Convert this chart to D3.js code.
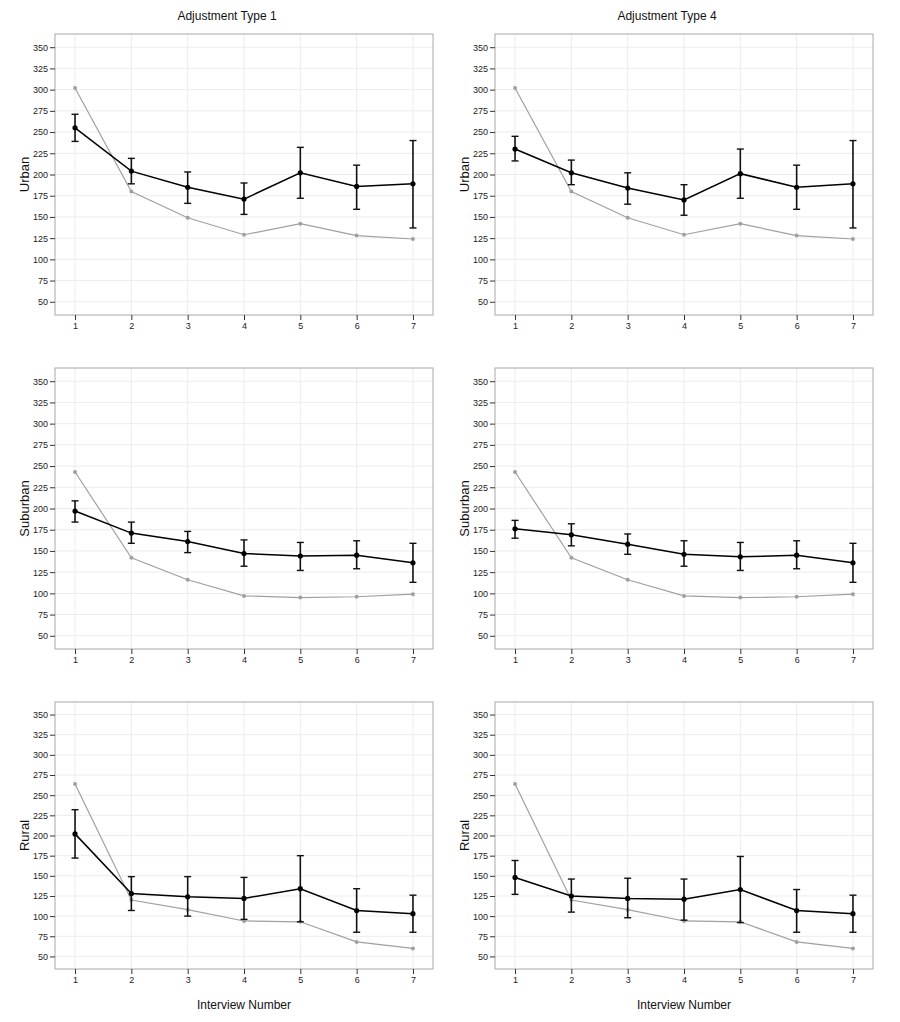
<!DOCTYPE html>
<html>
<head>
<meta charset="utf-8">
<script src="https://cdn.jsdelivr.net/npm/d3@7/dist/d3.min.js"></script>
<style>
  body { margin: 0; background: #fff; }
  svg text { font-family: "Liberation Sans", Arial, sans-serif; }
</style>
</head>
<body>
<svg id="chart" width="900" height="1022"></svg>
<script>
// ---- data ----
const interviews = [1, 2, 3, 4, 5, 6, 7];
const yTicks = [50, 75, 100, 125, 150, 175, 200, 225, 250, 275, 300, 325, 350];
const adjustments = ['Adjustment Type 1', 'Adjustment Type 4'];
const areas = ['Urban', 'Suburban', 'Rural'];

// grey reference line (same in both columns)
const baseUrban    = [302, 180, 149, 129, 142, 128, 124];
const baseSuburban = [243, 142, 116, 97, 95, 96, 99];
const baseRural    = [264, 120, 108, 94, 93, 68, 60];

// adjusted estimates with error bar bounds
const urbanT1     = [255, 204, 185, 171, 202, 186, 189];
const urbanT1Lo   = [239, 189, 166, 153, 172, 159, 137];
const urbanT1Hi   = [271, 219, 203, 190, 232, 211, 240];
const urbanT4     = [230, 202, 184, 170, 201, 185, 189];
const urbanT4Lo   = [216, 188, 165, 152, 172, 159, 137];
const urbanT4Hi   = [245, 217, 202, 188, 230, 211, 240];

const suburbT1    = [197, 171, 161, 147, 144, 145, 136];
const suburbT1Lo  = [184, 159, 148, 132, 127, 129, 113];
const suburbT1Hi  = [209, 184, 173, 163, 160, 162, 159];
const suburbT4    = [176, 169, 158, 146, 143, 145, 136];
const suburbT4Lo  = [165, 156, 146, 132, 127, 129, 113];
const suburbT4Hi  = [186, 182, 170, 162, 160, 162, 159];

const ruralT1     = [202, 128, 124, 122, 134, 107, 103];
const ruralT1Lo   = [172, 107, 100, 96, 93, 80, 80];
const ruralT1Hi   = [232, 149, 149, 148, 175, 134, 126];
const ruralT4     = [148, 125, 122, 121, 133, 107, 103];
const ruralT4Lo   = [127, 105, 98, 95, 92, 80, 80];
const ruralT4Hi   = [169, 146, 147, 146, 174, 133, 126];

const panels = [
  [ {base: baseUrban, est: urbanT1, lo: urbanT1Lo, hi: urbanT1Hi},
    {base: baseUrban, est: urbanT4, lo: urbanT4Lo, hi: urbanT4Hi} ],
  [ {base: baseSuburban, est: suburbT1, lo: suburbT1Lo, hi: suburbT1Hi},
    {base: baseSuburban, est: suburbT4, lo: suburbT4Lo, hi: suburbT4Hi} ],
  [ {base: baseRural, est: ruralT1, lo: ruralT1Lo, hi: ruralT1Hi},
    {base: baseRural, est: ruralT4, lo: ruralT4Lo, hi: ruralT4Hi} ],
];

// ---- layout ----
const colLeft = [55, 495];
const panelW = 378;
const rowTop = [34, 368, 702];
const rowH = [281, 281, 267];
const titleX = [227, 667];

const svg = d3.select('#chart');

// column titles
adjustments.forEach((t, c) => {
  svg.append('text')
    .attr('x', titleX[c]).attr('y', 20)
    .attr('text-anchor', 'middle')
    .style('font-size', '12px').style('fill', '#111')
    .text(t);
});

// x axis titles
colLeft.forEach(l => {
  svg.append('text')
    .attr('x', l + panelW / 2).attr('y', 1009)
    .attr('text-anchor', 'middle')
    .style('font-size', '12px').style('fill', '#111')
    .text('Interview Number');
});

panels.forEach((row, r) => {
  row.forEach((p, c) => {
    const left = colLeft[c], top = rowTop[r], h = rowH[r];
    const padX = panelW * 0.053, padY = h * 0.047;

    const x = d3.scaleLinear().domain([1, 7]).range([left + padX, left + panelW - padX]);
    const y = d3.scaleLinear().domain([50, 350]).range([top + h - padY, top + padY]);

    const g = svg.append('g');

    // grid
    g.selectAll('.hgrid').data(yTicks).enter().append('line')
      .attr('x1', left).attr('x2', left + panelW)
      .attr('y1', d => y(d)).attr('y2', d => y(d))
      .attr('stroke', '#ececec').attr('stroke-width', 1);
    g.selectAll('.vgrid').data(interviews).enter().append('line')
      .attr('x1', d => x(d)).attr('x2', d => x(d))
      .attr('y1', top).attr('y2', top + h)
      .attr('stroke', '#ececec').attr('stroke-width', 1);

    // panel border
    g.append('rect')
      .attr('x', left).attr('y', top).attr('width', panelW).attr('height', h)
      .attr('fill', 'none').attr('stroke', '#a8a8a8').attr('stroke-width', 1);

    // axes
    const ya = g.append('g').attr('transform', `translate(${left},0)`)
      .call(d3.axisLeft(y).tickValues(yTicks).tickSize(5).tickPadding(2));
    const xa = g.append('g').attr('transform', `translate(0,${top + h})`)
      .call(d3.axisBottom(x).tickValues(interviews).tickSize(5).tickPadding(3).tickFormat(d3.format('d')));
    [ya, xa].forEach(a => {
      a.select('.domain').remove();
      a.selectAll('line').attr('stroke', '#333');
      a.selectAll('text').style('font-size', '9px').style('fill', '#222')
        .style('font-family', '"Liberation Sans", Arial, sans-serif');
    });

    // y axis title
    g.append('text')
      .attr('transform', `translate(${left - 26},${top + h / 2}) rotate(-90)`)
      .attr('text-anchor', 'middle')
      .style('font-size', '13px').style('fill', '#111')
      .text(areas[r]);

    const line = d3.line().x((d, i) => x(interviews[i])).y(d => y(d));

    // grey reference series
    g.append('path').datum(p.base)
      .attr('d', line).attr('fill', 'none')
      .attr('stroke', '#a0a0a0').attr('stroke-width', 1.2);
    g.selectAll('.bpt').data(p.base).enter().append('circle')
      .attr('cx', (d, i) => x(interviews[i])).attr('cy', d => y(d))
      .attr('r', 2).attr('fill', '#a0a0a0');

    // error bars
    const eb = g.selectAll('.eb').data(interviews).enter().append('g');
    eb.append('line')
      .attr('x1', d => x(d)).attr('x2', d => x(d))
      .attr('y1', (d, i) => y(p.lo[i])).attr('y2', (d, i) => y(p.hi[i]))
      .attr('stroke', '#111').attr('stroke-width', 1.6);
    ['lo', 'hi'].forEach(k => {
      eb.append('line')
        .attr('x1', d => x(d) - 3.5).attr('x2', d => x(d) + 3.5)
        .attr('y1', (d, i) => y(p[k][i])).attr('y2', (d, i) => y(p[k][i]))
        .attr('stroke', '#111').attr('stroke-width', 1.4);
    });

    // estimate series
    g.append('path').datum(p.est)
      .attr('d', line).attr('fill', 'none')
      .attr('stroke', '#000').attr('stroke-width', 1.5);
    g.selectAll('.ept').data(p.est).enter().append('circle')
      .attr('cx', (d, i) => x(interviews[i])).attr('cy', d => y(d))
      .attr('r', 2.6).attr('fill', '#000');
  });
});
</script>
</body>
</html>
